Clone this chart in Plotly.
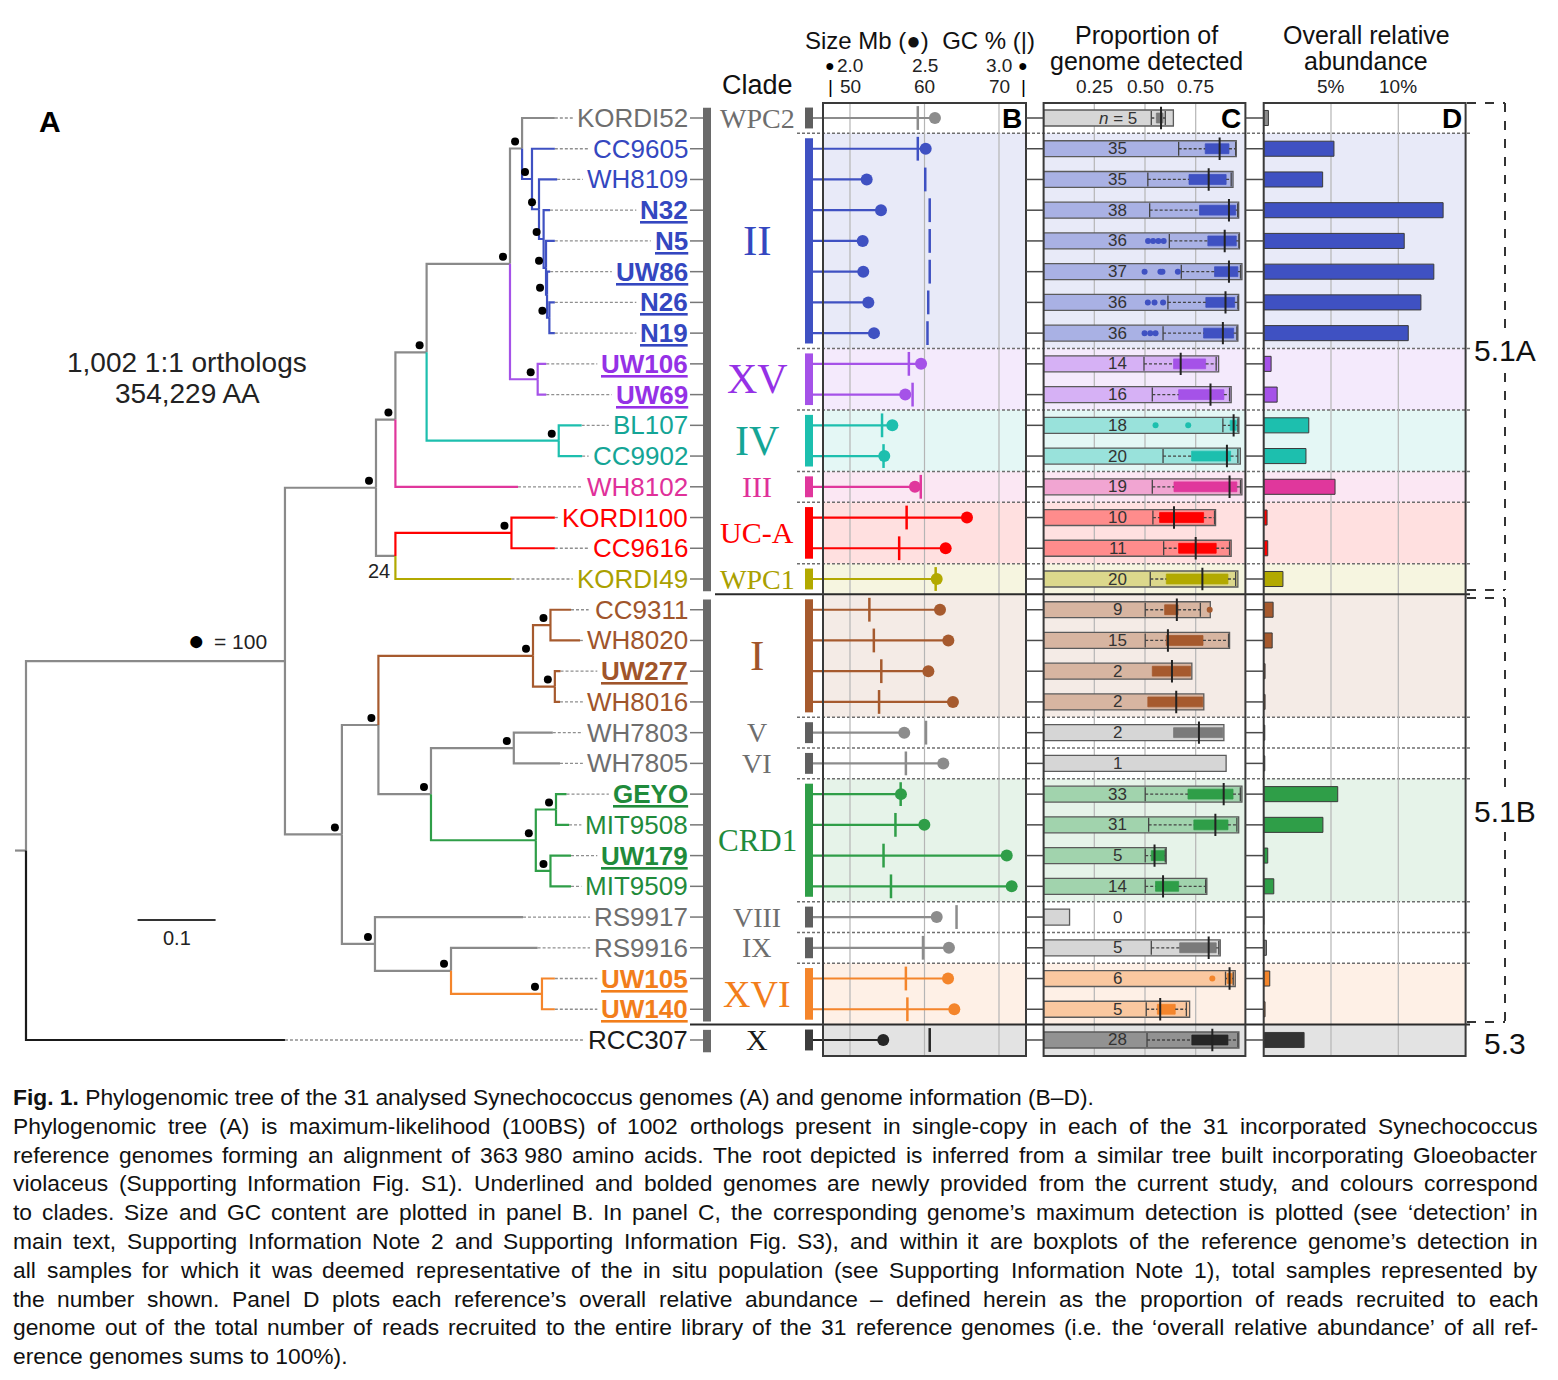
import plotly.graph_objects as go

# ======================= DATA =======================
strains = ["KORDI52", "CC9605", "WH8109", "N32", "N5", "UW86", "N26", "N19",
           "UW106", "UW69", "BL107", "CC9902", "WH8102", "KORDI100", "CC9616",
           "KORDI49", "CC9311", "WH8020", "UW277", "WH8016", "WH7803", "WH7805",
           "GEYO", "MIT9508", "UW179", "MIT9509", "RS9917", "RS9916", "UW105",
           "UW140", "RCC307"]
clade_of = (["WPC2"] + ["II"] * 7 + ["XV"] * 2 + ["IV"] * 2 + ["III"] + ["UC-A"] * 2
            + ["WPC1"] + ["I"] * 4 + ["V", "VI"] + ["CRD1"] * 4 + ["VIII", "IX"]
            + ["XVI"] * 2 + ["X"])
subcluster_of = ["5.1A"] * 16 + ["5.1B"] * 14 + ["5.3"]
new_genomes = ["N32", "N5", "UW86", "N26", "N19", "UW106", "UW69", "UW277", "GEYO",
               "UW179", "UW105", "UW140"]

# Panel B
size_mb = [2.570, 2.508, 2.112, 2.208, 2.085, 2.089, 2.123, 2.161, 2.477, 2.371,
           2.284, 2.230, 2.436, 2.785, 2.642, 2.582, 2.604, 2.660, 2.526, 2.691,
           2.364, 2.626, 2.342, 2.499, 3.052, 3.085, 2.582, 2.664, 2.658, 2.700, 2.223]
gc_pct = [59.1, 59.1, 60.1, 60.7, 60.7, 60.7, 60.5, 60.4, 57.9, 58.4,
          54.3, 54.5, 59.5, 57.6, 56.6, 61.5, 52.6, 53.2, 54.2, 53.9,
          60.2, 57.5, 56.8, 56.1, 54.5, 55.5, 64.3, 59.8, 57.5, 57.7, 60.7]
size_ticks = [2.0, 2.5, 3.0]
size_tick_labels = ["2.0", "2.5", "3.0"]
gc_ticks = [50, 60, 70]
gc_tick_labels = ["50", "60", "70"]

# Panel C
n_samples = [5, 35, 35, 38, 36, 37, 36, 36, 14, 16, 18, 20, 19, 10, 11, 20, 9, 15, 2, 2,
             2, 1, 33, 31, 5, 14, 0, 5, 6, 5, 28]
max_detection = [0.640, 0.950, 0.934, 0.962, 0.966, 0.978, 0.962, 0.958, 0.863, 0.925,
                 0.963, 0.970, 0.978, 0.848, 0.925, 0.958, 0.822, 0.917, 0.731, 0.790,
                 0.889, 0.900, 0.978, 0.962, 0.605, 0.805, 0.128, 0.871, 0.945, 0.720, 0.963]
det_low = [0.531, 0.666, 0.514, 0.523, 0.620, 0.679, 0.613, 0.589, 0.495, 0.536,
           0.884, 0.589, 0.536, 0.539, 0.592, 0.526, 0.501, 0.501, 0.536, 0.514,
           0.641, None, 0.501, 0.518, 0.501, 0.501, None, 0.531, 0.897, 0.506, 0.510]
det_q1 = [0.556, 0.797, 0.717, 0.769, 0.810, 0.843, 0.800, 0.789, 0.641, 0.666,
          0.920, 0.730, 0.643, 0.572, 0.666, 0.605, 0.597, 0.605, 0.536, 0.514,
          0.641, None, 0.712, 0.741, 0.531, 0.552, None, 0.671, 0.905, 0.561, 0.731]
det_median = [0.579, 0.868, 0.814, 0.914, 0.893, 0.914, 0.897, 0.884, 0.676, 0.823,
              0.937, 0.904, 0.917, 0.643, 0.750, 0.783, 0.657, 0.613, 0.633, 0.654,
              0.766, None, 0.888, 0.847, 0.547, 0.589, None, 0.814, 0.917, 0.575, 0.832]
det_q3 = [0.589, 0.914, 0.900, 0.947, 0.950, 0.958, 0.942, 0.937, 0.799, 0.889,
          0.950, 0.922, 0.953, 0.789, 0.851, 0.909, 0.663, 0.786, 0.725, 0.785,
          0.884, None, 0.934, 0.909, 0.597, 0.666, None, 0.851, 0.930, 0.649, 0.909]
det_high = [0.600, 0.947, 0.925, 0.957, 0.963, 0.971, 0.958, 0.953, 0.851, 0.917,
            0.958, 0.958, 0.971, 0.843, 0.917, 0.947, 0.773, 0.912, 0.725, 0.785,
            0.884, None, 0.970, 0.953, 0.600, 0.799, None, 0.864, 0.935, 0.704, 0.958]
det_outliers = [[], [], [], [], [0.515, 0.540, 0.566, 0.592], [0.498, 0.576, 0.586, 0.662],
                [0.514, 0.547, 0.589], [0.498, 0.526, 0.552], [], [], [0.552, 0.713], [], [],
                [], [], [], [0.819], [], [], [], [], [], [], [], [], [], [], [], [0.832], [], []]
det_ticks = [0.25, 0.50, 0.75]
det_tick_labels = ["0.25", "0.50", "0.75"]

# Panel D
overall_abundance = [0.35, 5.22, 4.38, 13.33, 10.44, 12.64, 11.68, 10.74, 0.55, 1.00,
                     3.35, 3.14, 5.30, 0.25, 0.30, 1.43, 0.70, 0.63, 0.10, 0.10,
                     0.08, 0.08, 5.50, 4.40, 0.30, 0.75, 0.00, 0.20, 0.45, 0.10, 3.00]
abund_ticks = [5, 10]
abund_tick_labels = ["5%", "10%"]

# Tree (depth = distance from root, substitutions per site)
tree_node = ["root", "IG", "RCC307", "W", "B", "Z", "V", "Y", "WH8102", "X", "IV",
             "BL107", "CC9902", "nK52", "XV", "UW106", "UW69", "KORDI52", "nII",
             "CC9605", "n2", "WH8109", "n3", "N32", "n4", "N5", "n5", "UW86", "n6",
             "N26", "N19", "UCA", "KORDI100", "CC9616", "KORDI49", "C", "D", "cI",
             "I1", "CC9311", "WH8020", "I2", "UW277", "WH8016", "E", "VV", "WH7803",
             "WH7805", "CRD", "C1", "GEYO", "MIT9508", "C2", "UW179", "MIT9509",
             "RS9917", "F", "RS9916", "XVI", "UW105", "UW140"]
tree_parent = [None, "root", "root", "IG", "IG", "W", "W", "Z", "Z", "Y", "Y",
               "IV", "IV", "X", "X", "XV", "XV", "nK52", "nK52",
               "nII", "nII", "n2", "n2", "n3", "n3", "n4", "n4", "n5", "n5",
               "n6", "n6", "V", "UCA", "UCA", "V", "B", "B", "C",
               "cI", "I1", "I1", "cI", "I2", "I2", "C", "E", "VV",
               "VV", "E", "CRD", "C1", "C1", "CRD", "C2", "C2",
               "D", "D", "F", "F", "XVI", "XVI"]
tree_depth = [0.0, 0.332, 0.332, 0.4487, 0.405, 0.4736, 0.4736, 0.5136, 0.6308, 0.6205, 0.683,
              0.7124, 0.713, 0.636, 0.656, 0.667, 0.667, 0.678, 0.6487,
              0.678, 0.6577, 0.681, 0.6636, 0.6718, 0.6667, 0.678, 0.668, 0.672, 0.671,
              0.678, 0.678, 0.6224, 0.678, 0.678, 0.6224, 0.4518, 0.4474, 0.65,
              0.6724, 0.6987, 0.7103, 0.678, 0.6853, 0.6846, 0.5192, 0.6254, 0.6754,
              0.6846, 0.6536, 0.6795, 0.693, 0.6962, 0.6724, 0.6987, 0.6987,
              0.6372, 0.5449, 0.6559, 0.6615, 0.678, 0.678]
tree_support = [None, None, None, 100, 100, 100, 24, 100, None, 100, 100,
                None, None, 100, 100, None, None, None, 100,
                None, 100, None, 100, None, 100, None, 100, None, 100,
                None, None, 100, None, None, None, 100, 100, 100,
                100, None, None, 100, None, None, 100, 100, None,
                None, 100, 100, None, None, 100, None, None,
                None, 100, None, 100, None, None]
scale_bar_length = 0.1

# ======================= STYLE =======================
W, H = 1558, 1380
SANS = "Liberation Sans, Arial, Helvetica, sans-serif"
SERIF = "Liberation Serif, Times New Roman, serif"
GRAY = "#8c8c8c"
TREE_GRAY = "#8a8a8a"
clade_color = {"WPC2": GRAY, "II": "#3f51c2", "XV": "#a552e8", "IV": "#1dbfae",
               "III": "#e0379c", "UC-A": "#ff0000", "WPC1": "#b2a900", "I": "#a65a2e",
               "V": GRAY, "VI": GRAY, "CRD1": "#2f9e48", "VIII": GRAY, "IX": GRAY,
               "XVI": "#f4852b", "X": "#262626"}
label_color = {"WPC2": "#6e6e6e", "II": "#3447c0", "XV": "#9531e6", "IV": "#14a596",
               "III": "#e0309a", "UC-A": "#ff0000", "WPC1": "#aaa000", "I": "#a0552b",
               "V": "#6e6e6e", "VI": "#6e6e6e", "CRD1": "#1f8b3b", "VIII": "#6e6e6e",
               "IX": "#6e6e6e", "XVI": "#f27e1b", "X": "#1a1a1a"}
gray_clades = {"WPC2", "V", "VI", "VIII", "IX"}
clade_font = {"WPC2": 28, "II": 43, "XV": 42, "IV": 42, "III": 30, "UC-A": 30, "WPC1": 28,
              "I": 43, "V": 28, "VI": 28, "CRD1": 31, "VIII": 28, "IX": 28, "XVI": 38, "X": 30}

ROW0_PX, ROW_STEP_PX = 118.0, 30.733
TREE_DOM_PX = (0.0, 800.0)
TREE_ZERO_PX, TREE_PX_PER_UNIT = 26.0, 780.0
B_DOM_PX = (813.0, 1026.0)
B_BOX_PX = (823.0, 1026.0)
SIZE_CAL = ((2.0, 850.0), (3.0, 999.0))
GC_CAL = ((50.0, 850.0), (70.0, 999.0))
C_BOX_PX = (1043.6, 1245.4)
DET_CAL = ((0.25, 1094.3), (0.75, 1195.7))
D_BOX_PX = (1263.7, 1465.6)
AB_CAL = ((5.0, 1331.0), (10.0, 1398.3))
PANEL_TOP_PX, PANEL_BOT_PX = 103.0, 1056.0
LABEL_RIGHT_PX = 688.0
LABEL_SIZE = 26


def fx(px):
    return px / W


def fy(px):
    return 1 - px / H


def row_at(px):
    return (px - ROW0_PX) / ROW_STEP_PX


def lin_range(dom, cal):
    (v1, p1), (v2, p2) = cal
    k = (v2 - v1) / (p2 - p1)
    return [v1 + (dom[0] - p1) * k, v1 + (dom[1] - p1) * k]


def mix(hexc, a):
    h = hexc.lstrip('#')
    rgb = [int(h[i:i + 2], 16) for i in (0, 2, 4)]
    return '#%02x%02x%02x' % tuple(int(round(255 + (c - 255) * a)) for c in rgb)


# Arial / Liberation Sans advance widths (per 1000 em)
AW = {ch: 556 for ch in "0123456789"}
AW.update({' ': 278, '\u00a0': 278, '!': 278, '"': 355, '%': 889, '&': 667, "'": 191,
           '(': 333, ')': 333, ',': 278, '-': 333, '.': 278, '/': 278, ':': 278, ';': 278,
           '=': 584, '?': 556, '–': 556, '‘': 222, '’': 222,
           'A': 667, 'B': 667, 'C': 722, 'D': 722, 'E': 667, 'F': 611, 'G': 778, 'H': 722,
           'I': 278, 'J': 500, 'K': 667, 'L': 556, 'M': 833, 'N': 722, 'O': 778, 'P': 667,
           'Q': 778, 'R': 722, 'S': 667, 'T': 611, 'U': 722, 'V': 667, 'W': 944, 'X': 667,
           'Y': 667, 'Z': 611, 'a': 556, 'b': 556, 'c': 500, 'd': 556, 'e': 556, 'f': 278,
           'g': 556, 'h': 556, 'i': 222, 'j': 222, 'k': 500, 'l': 222, 'm': 833, 'n': 556,
           'o': 556, 'p': 556, 'q': 556, 'r': 333, 's': 500, 't': 278, 'u': 556, 'v': 500,
           'w': 722, 'x': 500, 'y': 500, 'z': 500})


def text_em(s):
    return sum(AW.get(ch, 556) for ch in s) / 1000.0


tree_range = [(TREE_DOM_PX[0] - TREE_ZERO_PX) / TREE_PX_PER_UNIT,
              (TREE_DOM_PX[1] - TREE_ZERO_PX) / TREE_PX_PER_UNIT]
size_range = lin_range(B_DOM_PX, SIZE_CAL)
gc_range = lin_range(B_DOM_PX, GC_CAL)
det_range = lin_range(C_BOX_PX, DET_CAL)
ab_range = lin_range(D_BOX_PX, AB_CAL)


def tree_val(px):
    return (px - TREE_ZERO_PX) / TREE_PX_PER_UNIT


rows = list(range(len(strains)))
row_of = {s: i for i, s in enumerate(strains)}

fig = go.Figure()
shapes = []
annotations = []


def ann(text, x, y, xref='paper', yref='paper', size=20, color='#000', family=SANS,
        xanchor='center', yanchor='middle', **kw):
    d = dict(text=text, x=x, y=y, xref=xref, yref=yref, showarrow=False,
             font=dict(size=size, color=color, family=family),
             xanchor=xanchor, yanchor=yanchor, borderpad=0, borderwidth=0)
    d.update(kw)
    annotations.append(d)


def hline(x0px, x1px, yrow, color, width, dash='solid', layer='above', yref='y'):
    shapes.append(dict(type='line', xref='paper', yref=yref, x0=fx(x0px), x1=fx(x1px),
                       y0=yrow, y1=yrow, line=dict(color=color, width=width, dash=dash),
                       layer=layer))


def vline(xpx, y0, y1, color, width, dash='solid', layer='above', yref='y'):
    shapes.append(dict(type='line', xref='paper', yref=yref, x0=fx(xpx), x1=fx(xpx),
                       y0=y0, y1=y1, line=dict(color=color, width=width, dash=dash),
                       layer=layer))


def rect(x0px, x1px, y0, y1, fill, layer='below', line_color=None, lw=0):
    shapes.append(dict(type='rect', xref='paper', yref='y', x0=fx(x0px), x1=fx(x1px),
                       y0=y0, y1=y1, fillcolor=fill, layer=layer,
                       line=dict(color=line_color or fill, width=lw)))


# ---------- groups ----------
groups = []
for i, c in enumerate(clade_of):
    if groups and groups[-1][0] == c:
        groups[-1][2] = i
    else:
        groups.append([c, i, i])

panel_top = row_at(PANEL_TOP_PX)
panel_bot = row_at(PANEL_BOT_PX)
panels = [B_BOX_PX, C_BOX_PX, D_BOX_PX]

# background bands
for c, a, b in groups:
    if c in gray_clades:
        continue
    fill = "#e3e3e3" if c == "X" else mix(clade_color[c], 0.12)
    y0 = max(a - 0.5, panel_top)
    y1 = min(b + 0.5, panel_bot)
    for L, R in panels:
        rect(L, R, y0, y1, fill)

# separators
for k in range(len(groups) - 1):
    b = groups[k][2]
    yb = b + 0.5
    if subcluster_of[b] != subcluster_of[b + 1]:
        start = 715 if subcluster_of[b + 1] == "5.1B" else 690
        hline(start, 1470, yb, "#2a2a2a", 2)
    else:
        hline(797, 1470, yb, "#6f6f6f", 1.5, dash='3px,2px', layer='below')

# gridlines
for v in size_ticks:
    shapes.append(dict(type='line', xref='x2', yref='y', x0=v, x1=v, y0=panel_top, y1=panel_bot,
                       line=dict(color='#b5b5b5', width=1.2), layer='below'))
for v in det_ticks:
    shapes.append(dict(type='line', xref='x4', yref='y', x0=v, x1=v, y0=panel_top, y1=panel_bot,
                       line=dict(color='#b5b5b5', width=1.2), layer='below'))
for v in abund_ticks:
    shapes.append(dict(type='line', xref='x5', yref='y', x0=v, x1=v, y0=panel_top, y1=panel_bot,
                       line=dict(color='#b5b5b5', width=1.2), layer='below'))

# panel boxes
for L, R in panels:
    shapes.append(dict(type='rect', xref='paper', yref='y', x0=fx(L), x1=fx(R),
                       y0=panel_top, y1=panel_bot, line=dict(color='#3a3a3a', width=2),
                       fillcolor='rgba(0,0,0,0)', layer='above'))

# row connector ticks between panels and after labels
for r in rows:
    hline(B_BOX_PX[1], C_BOX_PX[0], r, '#4a4a4a', 1.5)
    hline(C_BOX_PX[1], D_BOX_PX[0], r, '#4a4a4a', 1.5)
    hline(LABEL_RIGHT_PX + 2, 703, r, '#777777', 1.5)

# gray vertical bar next to tip labels (per subcluster)
sub_groups = []
for i, s in enumerate(subcluster_of):
    if sub_groups and sub_groups[-1][0] == s:
        sub_groups[-1][2] = i
    else:
        sub_groups.append([s, i, i])
for s, a, b in sub_groups:
    rect(703, 711, a - 0.33, b + 0.4, '#6a6a6a', layer='above')

# clade bars + clade names
for c, a, b in groups:
    barcol = clade_color[c] if c not in gray_clades else '#5f5f5f'
    if c == "X":
        barcol = '#3c3c3c'
    rect(805, 813, a - 0.34, b + 0.34, barcol, layer='above')
    ann(c, fx(757), (a + b) / 2, yref='y', size=clade_font[c], color=label_color[c],
        family=SERIF)

# ---------- TREE ----------
children = {n: [] for n in tree_node}
for n, p in zip(tree_node, tree_parent):
    if p:
        children[p].append(n)
xpos = dict(zip(tree_node, tree_depth))
ypos = {}


def gety(n):
    if n not in ypos:
        if not children[n]:
            ypos[n] = row_of[n]
        else:
            ypos[n] = sum(gety(c) for c in children[n]) / len(children[n])
    return ypos[n]


def getcl(n):
    if not children[n]:
        return {clade_of[row_of[n]]}
    s = set()
    for c in children[n]:
        s |= getcl(c)
    return s


for n in tree_node:
    gety(n)


def branch_color(n):
    cl = getcl(n)
    if len(cl) == 1:
        c = next(iter(cl))
        if c == "X":
            return "#1a1a1a"
        if c in gray_clades:
            return TREE_GRAY
        return clade_color[c]
    return TREE_GRAY


segs = {}
for n, p in zip(tree_node, tree_parent):
    if p is None:
        continue
    col = branch_color(n)
    xs, ys = segs.setdefault(col, ([], []))
    xs += [xpos[p], xpos[p], xpos[n], None]
    ys += [ypos[p], ypos[n], ypos[n], None]
xs, ys = segs.setdefault(TREE_GRAY, ([], []))
xs += [xpos["root"] - 11 / TREE_PX_PER_UNIT, xpos["root"], None]
ys += [ypos["root"], ypos["root"], None]

# dotted leaf extensions
dx, dy = [], []
for s in strains:
    left_px = LABEL_RIGHT_PX - text_em(s) * LABEL_SIZE - 4
    lv = tree_val(left_px)
    if lv > xpos[s]:
        dx += [xpos[s], lv, None]
        dy += [row_of[s], row_of[s], None]
fig.add_trace(go.Scatter(x=dx, y=dy, mode='lines', xaxis='x', yaxis='y', hoverinfo='skip',
                         line=dict(color='#8f8f8f', width=1.3, dash='3px,2px')))
for col, (xs, ys) in segs.items():
    fig.add_trace(go.Scatter(x=xs, y=ys, mode='lines', xaxis='x', yaxis='y', hoverinfo='skip',
                             line=dict(color=col, width=2.2)))

bx, by = [], []
for n, sup in zip(tree_node, tree_support):
    if sup == 100:
        bx.append(xpos[n] - 7 / TREE_PX_PER_UNIT)
        by.append(ypos[n] - 0.23)
    elif sup is not None:
        ann(str(sup), xpos[n] - 16 / TREE_PX_PER_UNIT, ypos[n] + 0.48, xref='x', yref='y',
            size=20, color='#222')
fig.add_trace(go.Scatter(x=bx, y=by, mode='markers', xaxis='x', yaxis='y', hoverinfo='skip',
                         marker=dict(color='black', size=8)))

# tip labels
for s in strains:
    c = clade_of[row_of[s]]
    t = "<b><u>%s</u></b>" % s if s in new_genomes else s
    ann(t, fx(LABEL_RIGHT_PX), row_of[s], yref='y', size=LABEL_SIZE, color=label_color[c],
        xanchor='right')

# scale bar & tree texts
sb_x0 = tree_val(137.6)
shapes.append(dict(type='line', xref='x', yref='paper', x0=sb_x0, x1=sb_x0 + scale_bar_length,
                   y0=fy(920), y1=fy(920), line=dict(color='#333', width=2)))
ann("0.1", sb_x0 + scale_bar_length / 2, fy(938), xref='x', size=20, color='#222')
ann("1,002 1:1 orthologs", fx(187), fy(363), size=28, color='#222')
ann("354,229 AA", fx(187), fy(393), size=28, color='#222')
ann("●", fx(197), fy(640), size=28, color='black')
ann("= 100", fx(214), fy(641), size=21, color='#222', xanchor='left')
ann("<b>A</b>", fx(50), fy(121), size=30, color='black')

# ---------- PANEL B ----------
for c, a, b in groups:
    col = clade_color[c]
    rr = list(range(a, b + 1))
    sx, sy = [], []
    for r in rr:
        sx += [size_range[0], size_mb[r], None]
        sy += [r, r, None]
    fig.add_trace(go.Scatter(x=sx, y=sy, mode='lines', xaxis='x2', yaxis='y', hoverinfo='skip',
                             line=dict(color=col, width=2.2)))
    fig.add_trace(go.Scatter(x=[gc_pct[r] for r in rr], y=rr, mode='markers', xaxis='x3',
                             yaxis='y', hoverinfo='skip',
                             marker=dict(symbol='line-ns', size=17,
                                         line=dict(color=col, width=2.5))))
    fig.add_trace(go.Scatter(x=[size_mb[r] for r in rr], y=rr, mode='markers', xaxis='x2',
                             yaxis='y', hoverinfo='skip',
                             marker=dict(color=col, size=12)))

# ---------- PANEL C ----------
light = []
solid = []
for c in clade_of:
    if c == "X":
        light.append(mix("#262626", 0.5))
        solid.append("#262626")
    elif c in gray_clades:
        light.append("#d6d6d6")
        solid.append("#7a7a7a")
    else:
        light.append(mix(clade_color[c], 0.45))
        solid.append(clade_color[c])

fig.add_trace(go.Bar(x=max_detection, y=rows, base=[0] * len(rows), orientation='h',
                     width=0.52, xaxis='x4', yaxis='y', hoverinfo='skip',
                     marker=dict(color=light, line=dict(color='#5b5b5b', width=1.3))))

wx, wy, capx, capy = [], [], [], []
for r in rows:
    if det_q1[r] is None:
        continue
    if det_low[r] < det_q1[r]:
        wx += [det_low[r], det_q1[r], None]
        wy += [r, r, None]
        capx.append(det_low[r]); capy.append(r)
    if det_high[r] > det_q3[r]:
        wx += [det_q3[r], det_high[r], None]
        wy += [r, r, None]
        capx.append(det_high[r]); capy.append(r)
fig.add_trace(go.Scatter(x=wx, y=wy, mode='lines', xaxis='x4', yaxis='y', hoverinfo='skip',
                         line=dict(color='#444', width=1.3, dash='3px,2px')))
fig.add_trace(go.Scatter(x=capx, y=capy, mode='markers', xaxis='x4', yaxis='y', hoverinfo='skip',
                         marker=dict(symbol='line-ns', size=10, line=dict(color='#444', width=1.3))))

br = [r for r in rows if det_q1[r] is not None]
fig.add_trace(go.Bar(x=[det_q3[r] - det_q1[r] for r in br], base=[det_q1[r] for r in br],
                     y=br, orientation='h', width=0.32, xaxis='x4', yaxis='y', hoverinfo='skip',
                     marker=dict(color=[solid[r] for r in br],
                                 line=dict(color=[solid[r] for r in br], width=0.8))))
fig.add_trace(go.Scatter(x=[det_median[r] for r in br], y=br, mode='markers', xaxis='x4',
                         yaxis='y', hoverinfo='skip',
                         marker=dict(symbol='line-ns', size=16, line=dict(color='#222', width=2))))
ox, oy, oc = [], [], []
for r in rows:
    for v in det_outliers[r]:
        ox.append(v); oy.append(r); oc.append(solid[r])
fig.add_trace(go.Scatter(x=ox, y=oy, mode='markers', xaxis='x4', yaxis='y', hoverinfo='skip',
                         marker=dict(color=oc, size=6)))

N_TEXT_X = 0.365
for r in rows:
    t = "<i>n</i> = %d" % n_samples[r] if r == 0 else str(n_samples[r])
    ann(t, N_TEXT_X, r, xref='x4', yref='y', size=17, color='#333')

# ---------- PANEL D ----------
dcol = []
for c in clade_of:
    if c == "X":
        dcol.append("#333333")
    elif c in gray_clades:
        dcol.append(GRAY)
    else:
        dcol.append(clade_color[c])
fig.add_trace(go.Bar(x=overall_abundance, y=rows, base=[0] * len(rows), orientation='h',
                     width=0.49, xaxis='x5', yaxis='y', hoverinfo='skip',
                     marker=dict(color=dcol, line=dict(color='#3a3a3a', width=1))))

# ---------- headers ----------
ann("Size\u00a0Mb\u00a0(●)\u00a0\u00a0GC\u00a0%\u00a0(|)", fx(920), fy(40), size=24, color='#111')
ann("Proportion of", fx(1146), fy(35), size=25, color='#111')
ann("genome detected", fx(1146), fy(61), size=25, color='#111')
ann("Overall relative", fx(1366), fy(35), size=25, color='#111')
ann("abundance", fx(1366), fy(61), size=25, color='#111')
ann("Clade", fx(757), fy(85), size=27, color='#111')
for v, t in zip(size_ticks, size_tick_labels):
    ann(t, v, fy(66), xref='x2', size=19, color='#222')
for v, t in zip(gc_ticks, gc_tick_labels):
    ann(t, v, fy(86), xref='x3', size=19, color='#222')
ann("●", fx(830), fy(66), size=16, color='black')
ann("●", fx(1023), fy(66), size=16, color='black')
ann("|", fx(830), fy(86), size=19, color='black')
ann("|", fx(1023), fy(86), size=19, color='black')
for v, t in zip(det_ticks, det_tick_labels):
    ann(t, v, fy(86), xref='x4', size=19, color='#222')
for v, t in zip(abund_ticks, abund_tick_labels):
    ann(t, v, fy(86), xref='x5', size=19, color='#222')
ann("<b>B</b>", fx(B_BOX_PX[1] - 4), 0, yref='y', size=28, color='black', xanchor='right')
ann("<b>C</b>", fx(C_BOX_PX[1] - 4), 0, yref='y', size=28, color='black', xanchor='right')
ann("<b>D</b>", fx(D_BOX_PX[1] - 4), 0, yref='y', size=28, color='black', xanchor='right')

# ---------- subcluster brackets ----------
for y0px, y1px in [(103, 590), (598, 1022)]:
    hline(1467, 1505, fy(y0px), '#333', 2, dash='dash', yref='paper')
    hline(1467, 1505, fy(y1px), '#333', 2, dash='dash', yref='paper')
    vline(1505, fy(y0px), fy(y1px), '#333', 2, dash='dash', yref='paper')
ann("5.1A", fx(1505), fy(350), size=30, color='#111', bgcolor='white')
ann("5.1B", fx(1505), fy(811), size=30, color='#111', bgcolor='white')
ann("5.3", fx(1505), fy(1043), size=30, color='#111', bgcolor='white')

# ---------- caption ----------
caption_title = "Fig. 1."
caption_first = "Phylogenomic tree of the 31 analysed Synechococcus genomes (A) and genome information (B–D)."
caption_lines = [
    "Phylogenomic tree (A) is maximum-likelihood (100BS) of 1002 orthologs present in single-copy in each of the 31 incorporated Synechococcus",
    "reference genomes forming an alignment of 363\u00a0980 amino acids. The root depicted is inferred from a similar tree built incorporating Gloeobacter",
    "violaceus (Supporting Information Fig. S1). Underlined and bolded genomes are newly provided from the current study, and colours correspond",
    "to clades. Size and GC content are plotted in panel B. In panel C, the corresponding genome’s maximum detection is plotted (see ‘detection’ in",
    "main text, Supporting Information Note 2 and Supporting Information Fig. S3), and within it are boxplots of the reference genome’s detection in",
    "all samples for which it was deemed representative of the in situ population (see Supporting Information Note 1), total samples represented by",
    "the number shown. Panel D plots each reference’s overall relative abundance – defined herein as the proportion of reads recruited to each",
    "genome out of the total number of reads recruited to the entire library of the 31 reference genomes (i.e. the ‘overall relative abundance’ of all ref-",
]
caption_last = "erence genomes sums to 100%)."
CAP_L, CAP_R = 13.0, 1538.0
MIN_GAP_PX = 4.0
cap_size = 22.8
for l in caption_lines:
    wds = l.split(' ')
    word_em = sum(text_em(w) for w in wds)
    cap_size = min(cap_size, (CAP_R - CAP_L - MIN_GAP_PX * (len(wds) - 1)) / word_em)
cap_y0, cap_step = 1097.0, 28.8
ann("<b>%s</b> %s" % (caption_title, caption_first), fx(CAP_L), fy(cap_y0), size=cap_size,
    color='#111', xanchor='left')
for i, line in enumerate(caption_lines):
    ypx = cap_y0 + cap_step * (i + 1)
    words = line.split(' ')
    ws = [text_em(w) * cap_size for w in words]
    gap = (CAP_R - CAP_L - sum(ws)) / (len(words) - 1)
    x = CAP_L
    for j, (w, ww) in enumerate(zip(words, ws)):
        if j == len(words) - 1:
            ann(w, fx(CAP_R), fy(ypx), size=cap_size, color='#111', xanchor='right')
        else:
            ann(w, fx(x), fy(ypx), size=cap_size, color='#111', xanchor='left')
        x += ww + gap
ann(caption_last, fx(CAP_L), fy(cap_y0 + cap_step * 9), size=cap_size, color='#111',
    xanchor='left')

# ---------- layout ----------
fig.update_layout(
    width=W, height=H, margin=dict(l=0, r=0, t=0, b=0),
    paper_bgcolor='white', plot_bgcolor='rgba(0,0,0,0)', showlegend=False,
    barmode='overlay', font=dict(family=SANS),
    xaxis=dict(domain=[fx(TREE_DOM_PX[0]), fx(TREE_DOM_PX[1])], range=tree_range,
               visible=False, anchor='y'),
    xaxis2=dict(domain=[fx(B_DOM_PX[0]), fx(B_DOM_PX[1])], range=size_range,
                visible=False, anchor='y'),
    xaxis3=dict(overlaying='x2', range=gc_range, visible=False, anchor='y'),
    xaxis4=dict(domain=[fx(C_BOX_PX[0]), fx(C_BOX_PX[1])], range=det_range,
                visible=False, anchor='y'),
    xaxis5=dict(domain=[fx(D_BOX_PX[0]), fx(D_BOX_PX[1])], range=ab_range,
                visible=False, anchor='y'),
    yaxis=dict(domain=[0, 1], range=[row_at(H), row_at(0)], visible=False, anchor='x'),
    shapes=shapes, annotations=annotations,
)

fig.write_html("out.html", config={'displayModeBar': False},
               post_script="document.body.style.margin='0';document.body.style.overflow='hidden';")
